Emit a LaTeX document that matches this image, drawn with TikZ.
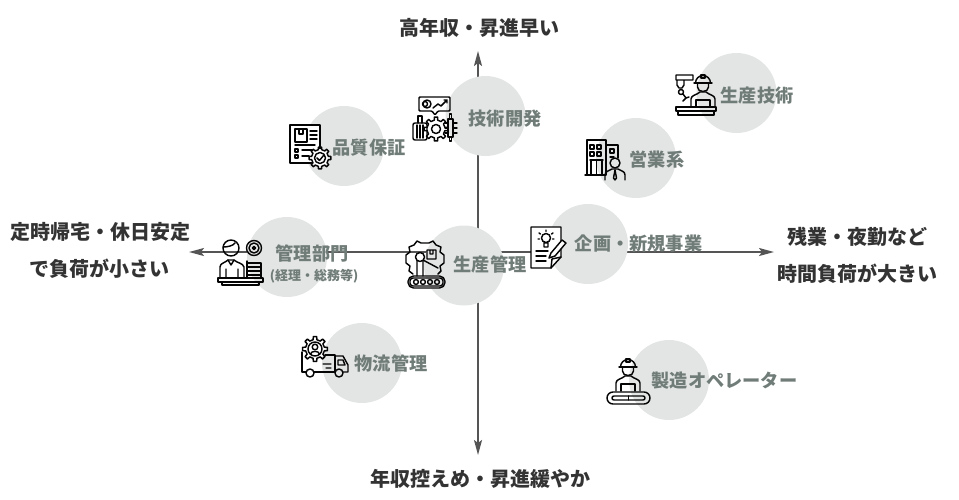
\documentclass[tikz,border=0pt]{standalone}
\usepackage{fontspec}
\usepackage{xcolor}
\usetikzlibrary{arrows.meta,positioning}
\newfontfamily\jpfont{Noto Sans CJK JP}
\definecolor{disc}{HTML}{E3E5E4}
\definecolor{labgrey}{HTML}{707C77}
\definecolor{axisgrey}{HTML}{555555}
\definecolor{headink}{HTML}{333333}
\definecolor{ink}{HTML}{050505}
% gear outline: centre x, centre y, root radius, tip radius
\newcommand{\gearat}[4]{\draw[shift={(#1,#2)}] (-11:#3) \foreach \a in {0,45,...,315} {-- (\a-11:#3) -- (\a-8:#4) -- (\a+8:#4) -- (\a+11:#3)} -- cycle;}
\tikzset{
  icon/.style={draw=ink, line width=1.45pt, line join=round, line cap=round},
  worker/.pic={
    \draw[icon] (-7.5,5) arc[start angle=180, end angle=360, radius=7.5] -- cycle;
    \draw[icon] (-9,5) -- (9,5) (-2,-3) rectangle (2,0);
    \draw[icon] (-5.5,6) -- (-5.5,9) .. controls (-5.5,15) and (5.5,15) .. (5.5,9) -- (5.5,6);
    \draw[icon] (-12,29) -- (-12,21) .. controls (-12,17) and (-6,17) .. (-3,14) -- (3,14) .. controls (6,17) and (12,17) .. (12,21) -- (12,29);
    \draw[icon] (-7,29) -- (-7,22) -- (7,22) -- (7,29);
  },
  qcicon/.pic={
    \draw[icon, fill=white] (0,0) rectangle (30,38);
    \draw[icon] (5,4) rectangle (17,17) (9,4) -- (9,9) -- (13,9) -- (13,4);
    \draw[icon] (20,6) -- (27,6) (20,10) -- (27,10) (20,14) -- (27,14) (5,20) -- (25,20);
    \draw[icon] (5,24) rectangle (8,27) (12,25) -- (22,25) (5,30) rectangle (8,33) (12,31) -- (19,31);
    \begin{scope}[icon]
      \fill[white] (30,33) circle[radius=9];
      \gearat{30}{33}{8.5}{11}
      \draw (30,33) circle[radius=5.5];
      \draw (27,33) -- (29.5,35.5) -- (33.5,30.5);
    \end{scope}
  },
  devicon/.pic={
    \draw[icon, rounded corners=1pt] (7,0) -- (38,0) -- (38,14) -- (26,14) -- (23,18) -- (20,14) -- (7,14) -- cycle;
    \draw[icon] (15,7) circle[radius=4] (13,7) circle[radius=2.5];
    \draw[icon] (21,11) -- (26,7) -- (29,9) -- (35,3) (32,3) -- (35,3) -- (35,6);
    \draw[icon, rounded corners=2pt] (1,26) rectangle (15,43);
    \draw[icon] (6,26) -- (6,19) -- (10,19) -- (10,26) (5,28) -- (5,41) (8,28) -- (8,41) (11,28) -- (11,41);
    \begin{scope}[icon]
      \gearat{24}{32}{9}{12}
      \draw (24,32) circle[radius=4.5];
    \end{scope}
    \draw[icon] (36,22) rectangle (41,40) (37.5,17) rectangle (39.5,22) (37.5,40) rectangle (39.5,44);
    \draw[icon] (33,26) -- (36,26) (33,31) -- (36,31) (33,36) -- (36,36) (41,26) -- (45,26) (41,31) -- (45,31) (41,36) -- (45,36);
  },
  techicon/.pic={
    \draw[icon] (0,0) rectangle (17,5) (1,5) -- (8,5) -- (8,10) -- (6,13) -- (3,13) -- (1,10) -- cycle;
    \draw[icon] (5,17) circle[radius=2.5] (5,14) -- (5,15) (7,19) -- (10,23) (7,26) -- (10,23) -- (13,22);
    \pic at (27,3) {worker};
    \draw[icon] (0,32) rectangle (40,36) (2,36) rectangle (38,40);
  },
  officeicon/.pic={
    \draw[icon] (2,35) -- (2,0) -- (21,0) -- (21,35) (0,35) -- (21,35);
    \draw[icon] (5,5) rectangle (9,9) (12,5) rectangle (16,9) (5,12) rectangle (9,16) (12,12) rectangle (16,16);
    \draw[icon] (5,20) -- (18,20) (6,20) -- (6,35) (11.5,20) -- (11.5,35) (17,20) -- (17,35);
    \draw[icon] (21,5) -- (33,5) -- (33,18) (25,9) rectangle (29,13) (25,17) -- (29,17);
    \draw[icon] (30,23) circle[radius=5];
    \draw[icon] (20,40) -- (20,35) .. controls (20,31) and (24,31) .. (27,29) -- (33,29) .. controls (36,31) and (40,31) .. (40,35) -- (40,40);
    \draw[icon] (30,30) -- (28.5,38) -- (30,40) -- (31.5,38) -- cycle;
  },
  adminicon/.pic={
    \draw[icon] (13,8) circle[radius=8];
    \draw[icon] (5,7) .. controls (9,7) and (15,6) .. (17,3);
    \draw[icon] (2,37) -- (2,27) .. controls (2,23) and (7,23) .. (10,20) -- (16,20) .. controls (19,23) and (25,23) .. (26,27) -- (26,37);
    \draw[icon] (8,37) -- (8,29) (20,37) -- (20,29) (10,20) -- (13,25) -- (16,20);
    \draw[icon] (36,8) circle[radius=7.5] (36,8) circle[radius=5] (36,8) circle[radius=1.5];
    \draw[icon] (29,21) -- (29,37) (43,23) -- (43,37) (29,23) -- (43,23) (29,27) -- (43,27) (29,31) -- (43,31) (29,35) -- (43,35);
    \draw[icon] (0,38) rectangle (45,42) (4,42) rectangle (41,45);
  },
  plantpic/.pic={
    \draw[icon] (8,34) -- (4,31) -- (5,26) -- (1,23) -- (1,15) -- (5,12) -- (4,7) -- (9,5) -- (12,1) -- (16,3) -- (24,3) -- (28,1) -- (31,5) -- (36,7) -- (35,12) -- (39,15) -- (39,23) -- (35,26) -- (36,31) -- (33,34);
    \draw[icon] (15,17) circle[radius=4.5] (12,21) -- (12,36) (18,21) -- (18,36) (18,20) -- (33,28) (22,10) rectangle (31,19) (25,10) -- (25,14) -- (28,14) -- (28,10);
    \draw[icon, rounded corners=5.5pt] (3,36) rectangle (40,48);
    \draw[icon, rounded corners=3pt] (5,38) rectangle (38,46);
    \foreach \x in {11,18,25,32} \draw[icon] (\x,42) circle[radius=2.4];
  },
  ideaicon/.pic={
    \draw[icon, fill=white] (0,0) -- (30,0) -- (30,30) -- (20,41) -- (0,41) -- cycle;
    \draw[icon] (20,41) -- (21,32) -- (30,30);
    \draw[icon] (15,11) circle[radius=4.5] (13,16) rectangle (17,20);
    \draw[icon] (15,3) -- (15,4.5) (8,6) -- (9.5,7) (22,6) -- (20.5,7) (7,12) -- (8.5,12) (23,12) -- (21.5,12);
    \draw[icon] (5,24) -- (17,24) (5,29) -- (15,29) (5,34) -- (15,34);
    \draw[icon, fill=white] (20,26) -- (31,13) -- (35,16) -- (24,29) -- (18,31) -- cycle;
  },
  truckicon/.pic={
    \draw[icon] (4,35) -- (0,35) -- (0,15) (12,35) -- (33,35) -- (33,18) -- (23,18);
    \draw[icon] (33,19) -- (41,19) -- (46,28) -- (46,35) -- (41,35);
    \draw[icon] (36,23) -- (41,23) -- (43,28) -- (36,28) -- cycle;
    \begin{scope}[icon]
      \gearat{13}{12}{9.5}{12.5}
      \draw (13,12) circle[radius=7] (13,10) circle[radius=2.8];
      \draw (8.5,17) .. controls (9,13.5) and (17,13.5) .. (17.5,17);
    \end{scope}
    \draw[icon] (8,36) circle[radius=4] (37,36) circle[radius=4] (21,27) -- (29,27) (24,31) -- (29,31);
  },
  lineicon/.pic={
    \pic at (21,2) {worker};
    \draw[icon, rounded corners=6pt] (0,32) rectangle (43,44);
    \draw[icon, rounded corners=2pt] (5,36) rectangle (38,40);
    \draw[icon] (21.5,36) -- (21.5,40);
  }
}
\begin{document}
\begin{tikzpicture}[x=1pt, y=-1pt,
  discnode/.style={circle, fill=disc, minimum size=80pt, inner sep=0pt},
  axis/.style={{Stealth[length=15pt, width=8pt, inset=3pt]}-{Stealth[length=15pt, width=8pt, inset=3pt]}, line width=1.9pt, axisgrey},
  lab/.style={font=\jpfont\bfseries\fontsize{18.2}{18}\selectfont, text=labgrey, inner sep=0pt, align=center},
  head/.style={font=\jpfont\bfseries\fontsize{20}{37}\selectfont, text=headink, inner sep=0pt, align=center}]
  \useasboundingbox (0,0) rectangle (959,499);
  \coordinate (tipN) at (478,51);
  \coordinate (tipS) at (478,455);
  \coordinate (tipW) at (189,252);
  \coordinate (tipE) at (774,252);
  \draw[axis] (tipN) -- (tipS);
  \draw[axis] (tipW) -- (tipE);
  % circles
  \foreach \x/\y/\n in {485.5/116/dev, 344/146/qc, 736.5/93/tech, 636/158/sales, 287/257/admin,
    464/265.5/plant, 588/244/plan, 362/363/logi, 669/380/line}
    \node[discnode] (\n) at (\x,\y) {};
  % icons
  \pic at (290,125) {qcicon};
  \pic at (412,97) {devicon};
  \pic at (676,75) {techicon};
  \pic at (585,140) {officeicon};
  \pic at (218,240) {adminicon};
  \pic at (405,240) {plantpic};
  \pic at (531,227) {ideaicon};
  \pic at (302,337) {truckicon};
  \pic at (607,360) {lineicon};
  % labels
  \node[lab] (devtext) at (505,119) {技術開発};
  \node[lab] (qctext) at (369,148) {品質保証};
  \node[lab] (techtext) at (757,96) {生産技術};
  \node[lab] (salestext) at (657,160) {営業系};
  \node[lab] (admintext) at (312,254) {管理部門};
  \node[lab, font=\jpfont\bfseries\fontsize{13}{13}\selectfont] (adminsub) at (314,276) {(経理・総務等)};
  \node[lab] (planttext) at (490,265) {生産管理};
  \node[lab] (plantext) at (638.5,244) {企画・新規事業};
  \node[lab] (logitext) at (391,364) {物流管理};
  \node[lab] (linetext) at (724.5,381) {製造オペレーター};
  \node[head] (north) at (479,28) {高年収・昇進早い};
  \node[head] (south) at (480,479) {年収控えめ・昇進緩やか};
  \node[head] (west) at (100,250) {定時帰宅・休日安定\\で負荷が小さい};
  \node[head] (east) at (857,255) {残業・夜勤など\\時間負荷が大きい};
\end{tikzpicture}
\end{document}
